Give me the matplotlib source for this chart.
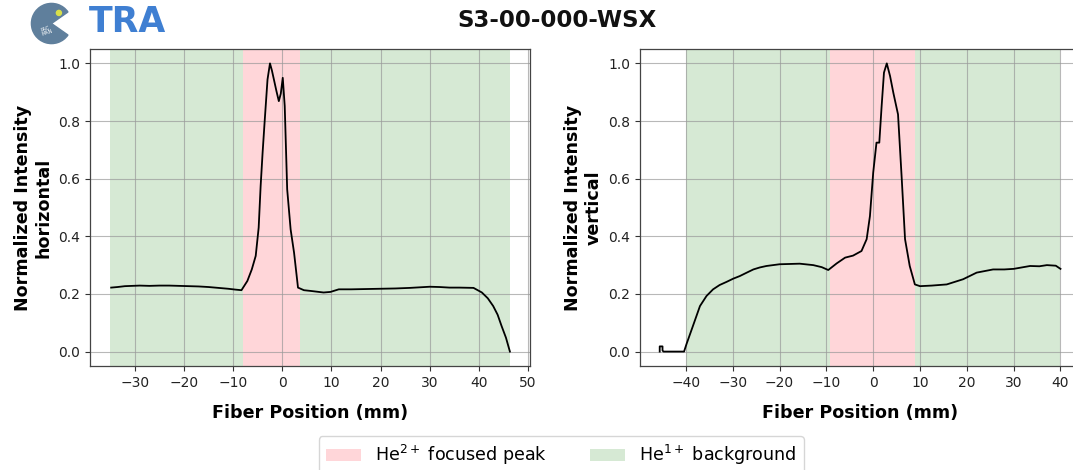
import matplotlib
matplotlib.use('Agg')
import matplotlib.pyplot as plt
from matplotlib.patches import Wedge, Circle, Patch

# Data ------------------------------------------------------------------------
title = 'S3-00-000-WSX'

h_pos = [-34.8, -33.5, -32.0, -30.5, -29.0, -27.0, -25.0, -23.0, -21.0, -19.0,
         -17.0, -15.0, -13.0, -11.0, -9.5, -8.3, -7.1, -6.2, -5.4, -4.8,
         -4.4, -4.0, -3.6, -3.0, -2.5, -2.1, -1.7, -1.2, -0.7, -0.3,
         0.1, 0.5, 1.0, 1.7, 2.4, 3.2, 4.4, 6.0, 8.4, 9.8,
         11.5, 14.0, 17.0, 20.0, 23.0, 26.0, 28.0, 30.0, 32.0, 34.0,
         36.0, 38.9, 40.6, 41.8, 42.9, 43.8, 44.6, 45.5, 46.3]
h_val = [0.222, 0.224, 0.227, 0.228, 0.229, 0.228, 0.229, 0.229, 0.228, 0.227,
         0.226, 0.224, 0.221, 0.218, 0.215, 0.213, 0.245, 0.285, 0.332, 0.43,
         0.574, 0.69, 0.794, 0.944, 1.0, 0.975, 0.944, 0.905, 0.869, 0.895,
         0.95, 0.852, 0.563, 0.424, 0.343, 0.222, 0.213, 0.210, 0.205, 0.207,
         0.216, 0.216, 0.217, 0.218, 0.219, 0.221, 0.223, 0.225, 0.224, 0.222,
         0.222, 0.221, 0.205, 0.185, 0.158, 0.128, 0.089, 0.048, 0.0]

v_pos = [-45.6, -45.6, -45.0, -45.0, -44.8, -42.0, -40.4, -39.9, -38.5, -37.0,
         -35.6, -34.2, -32.8, -31.3, -29.9, -28.5, -27.0, -25.6, -24.2, -22.8,
         -20.0, -17.8, -15.7, -12.8, -11.0, -9.6, -7.8, -6.0, -4.3, -2.5,
         -1.4, -0.7, 0.0, 0.7, 1.3, 1.8, 2.3, 2.9, 3.6, 4.3,
         5.3, 6.1, 6.8, 7.8, 8.9, 10.0, 12.5, 15.7, 19.2, 22.1,
         25.6, 28.0, 30.0, 33.5, 35.5, 37.1, 39.0, 40.0]
v_val = [0.0, 0.018, 0.018, 0.004, 0.0, 0.0, 0.0, 0.025, 0.089, 0.158,
         0.193, 0.216, 0.231, 0.242, 0.253, 0.262, 0.274, 0.285, 0.292, 0.297,
         0.303, 0.304, 0.305, 0.300, 0.293, 0.283, 0.306, 0.326, 0.333, 0.349,
         0.39, 0.47, 0.621, 0.725, 0.725, 0.852, 0.968, 1.0, 0.956, 0.898,
         0.823, 0.598, 0.39, 0.297, 0.233, 0.227, 0.229, 0.233, 0.251, 0.274,
         0.285, 0.285, 0.287, 0.297, 0.296, 0.300, 0.298, 0.287]

# shaded regions (mm): [peak_lo, peak_hi, bg_lo, bg_hi]
h_regions = [-8.0, 3.6, -35.0, 46.3]
v_regions = [-9.3, 9.0, -40.0, 40.0]

peak_color = '#ffd6d9'
bg_color = '#d6e9d4'

# -----------------------------------------------------------------------------

fig = plt.figure(figsize=(10.73, 4.70), dpi=100)


def decorate(ax, regions, xlim, ylabel):
    lo, hi, blo, bhi = regions
    ax.axvspan(blo, lo, color=bg_color, lw=0, zorder=0)
    ax.axvspan(lo, hi, color=peak_color, lw=0, zorder=0)
    ax.axvspan(hi, bhi, color=bg_color, lw=0, zorder=0)
    ax.grid(True, color='#9a9a9a', lw=0.8, alpha=0.7)
    ax.set_xlim(xlim)
    ax.set_ylim(-0.05, 1.05)
    ax.set_yticks([0.0, 0.2, 0.4, 0.6, 0.8, 1.0])
    ax.tick_params(labelsize=10, colors='#333333', labelcolor='#222222')
    for s in ax.spines.values():
        s.set_color('#444444')
        s.set_linewidth(0.9)
    ax.set_xlabel('Fiber Position (mm)', fontsize=12.6, fontweight='bold', labelpad=10)
    ax.set_ylabel(ylabel, fontsize=12.6, fontweight='bold')


ax1 = fig.add_axes([0.0839, 0.2213, 0.4101, 0.6745])
ax1.plot(h_pos, h_val, color='black', lw=1.3)
decorate(ax1, h_regions, (-39.1, 50.4), 'Normalized Intensity\nhorizontal')
ax1.set_xticks([-30, -20, -10, 0, 10, 20, 30, 40, 50])

# right panel runs past the figure edge, as in the cropped original
ax2 = fig.add_axes([0.5965, 0.2213, 0.4106, 0.6745])
ax2.plot(v_pos, v_val, color='black', lw=1.3)
decorate(ax2, v_regions, (-49.8, 44.3), 'Normalized Intensity\nvertical')
ax2.set_xticks([-40, -30, -20, -10, 0, 10, 20, 30, 40])
ax2.spines['right'].set_visible(False)

fig.text(0.519, 0.957, title, ha='center', va='center', fontsize=16.5,
         fontweight='bold', color='#111111')

# Logo ------------------------------------------------------------------------
lax = fig.add_axes([0.028, 0.905, 0.04, 0.09])
lax.set_xlim(-1, 1)
lax.set_ylim(-1, 1)
lax.set_aspect('equal')
lax.axis('off')
lax.add_patch(Wedge((0, 0), 0.95, 35, 325, color='#5f7f9c'))
lax.add_patch(Circle((0.35, 0.5), 0.12, color='#d8e04a'))
lax.text(-0.25, -0.35, 'PAC\nMAN', fontsize=3.5, color='white', ha='center',
         va='center', rotation=20, linespacing=0.9)
fig.text(0.083, 0.953, 'TRA', fontsize=25, fontweight='bold', color='#3f7fd2',
         ha='left', va='center')

# Legend ----------------------------------------------------------------------
handles = [Patch(facecolor=peak_color, edgecolor='none'),
           Patch(facecolor=bg_color, edgecolor='none')]
labels = [r'He$^{2+}$ focused peak', r'He$^{1+}$ background']
fig.legend(handles, labels, loc='upper center', bbox_to_anchor=(0.523, 0.072),
           ncol=2, fontsize=12.6, frameon=True, handlelength=2.0,
           columnspacing=2.5, borderaxespad=0.0)

if __name__ == '__main__':
    plt.savefig('out.png', dpi=100)
